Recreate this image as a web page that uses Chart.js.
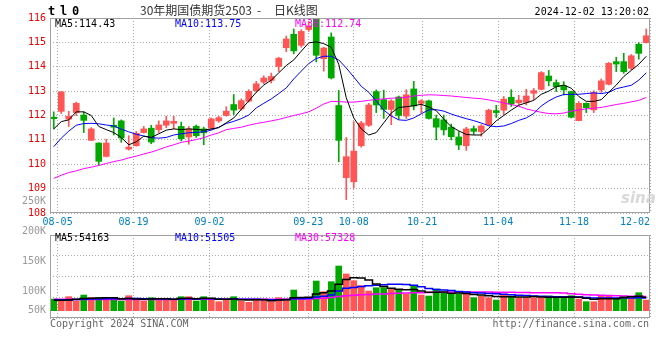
<!DOCTYPE html>
<html lang="zh">
<head>
<meta charset="UTF-8">
<title>30年期国债期货2503 日K线图</title>
<script src="https://cdn.jsdelivr.net/npm/chart.js"></script>
<style>
body { margin: 0; width: 660px; height: 360px; position: relative; overflow: hidden; background: #fff;
       font-family: "DejaVu Sans Mono", monospace; font-size: 10px; }
canvas { position: absolute; left: 0; }
#price-chart { top: 0; }
#vol-chart { top: 190px; }
.txt { position: absolute; white-space: pre; line-height: 12px; }
.cjk { font-family: "Noto Sans CJK SC", sans-serif; font-size: 12px; line-height: 14px; top: 3px; color: #333; }
</style>
</head>
<body>

<canvas id="price-chart" width="660" height="232"></canvas>
<canvas id="vol-chart" width="660" height="170"></canvas>

<div class="txt" style="left:48px;top:4px;font-size:12px;font-weight:bold;letter-spacing:-1.2px;line-height:14px">t l 0</div>
<div class="txt cjk" style="left:140px">30年期国债期货2503</div>
<div class="txt cjk" style="left:257px">-</div>
<div class="txt cjk" style="left:274px">日K线图</div>
<div class="txt" style="right:11px;top:6px;color:#000">2024-12-02 13:20:02</div>

<div class="txt" style="left:55px;top:18px;color:#000">MA5:114.43</div>
<div class="txt" style="left:175px;top:18px;color:#0000FF">MA10:113.75</div>
<div class="txt" style="left:295px;top:18px;color:#FF00FF">MA30:112.74</div>

<div class="txt" style="left:55px;top:232px;color:#000">MA5:54163</div>
<div class="txt" style="left:175px;top:232px;color:#0000FF">MA10:51505</div>
<div class="txt" style="left:295px;top:232px;color:#FF00FF">MA30:57328</div>

<div class="txt" style="left:621px;top:190px;font-family:'DejaVu Sans';font-size:15px;font-weight:bold;font-style:italic;color:#d8d8d8;line-height:16px">sina</div>

<div class="txt" style="left:50px;top:318px;color:#666">Copyright 2024 SINA.COM</div>
<div class="txt" style="right:11px;top:318px;color:#666">http://finance.sina.com.cn</div>

<script>
// 80 trading days, 08-02 .. 12-02
const dateLabels = ['08-05', '08-19', '09-02', '09-23', '10-08', '10-21', '11-04', '11-18', '12-02'];
const dateIdx = [1, 11, 21, 34, 40, 49, 59, 69, 79];

const openP = [111.93, 112.17, 111.85, 112.12, 112.02, 110.98, 110.87, 110.32, 111.6, 111.78,
               110.62, 110.76, 111.3, 111.48, 111.42, 111.6, 111.68, 111.55, 111.12, 111.56,
               111.45, 111.48, 111.78, 112.0, 112.45, 112.27, 112.59, 113.02, 113.37, 113.44,
               114.01, 114.78, 115.33, 114.88, 115.53, 115.95, 114.33, 115.22, 112.41, 109.45,
               109.28, 110.76, 111.6, 112.98, 112.65, 112.25, 112.76, 111.98, 113.09, 112.5,
               112.6, 111.87, 111.82, 111.52, 111.12, 110.76, 111.46, 111.34, 111.62, 112.2,
               112.22, 112.75, 112.52, 112.54, 112.91, 113.07, 113.62, 113.35, 113.22, 112.98,
               111.79, 112.5, 112.23, 113.05, 113.28, 114.21, 114.21, 113.94, 114.92, 114.99];
const highP = [112.15, 112.98, 112.17, 112.55, 112.15, 111.5, 110.88, 111.03, 111.9, 111.82,
               111.17, 111.35, 111.55, 111.6, 111.78, 111.97, 111.97, 111.73, 111.55, 111.61,
               111.52, 111.9, 111.97, 112.36, 112.86, 112.68, 113.06, 113.4, 113.63, 113.74,
               114.39, 115.26, 115.55, 115.52, 115.85, 116.0, 114.8, 115.39, 113.03, 111.1,
               111.75, 111.76, 112.5, 113.05, 113.04, 112.65, 112.8, 113.06, 113.4, 112.65,
               112.63, 112.02, 112.02, 111.65, 111.34, 111.52, 111.57, 111.62, 112.26, 112.42,
               112.78, 113.06, 112.83, 113.08, 113.11, 113.8, 113.85, 113.46, 113.39, 113.0,
               112.57, 112.52, 113.02, 113.5, 114.18, 114.39, 114.55, 114.5, 114.99, 115.55];
const lowP = [111.45, 112.08, 111.55, 112.0, 111.3, 110.97, 109.97, 110.3, 111.2, 110.9,
              110.58, 110.74, 111.28, 110.84, 111.3, 111.5, 111.45, 110.96, 110.82, 111.1,
              110.8, 111.42, 111.72, 111.97, 112.04, 112.22, 112.55, 112.95, 113.3, 113.33,
              113.8, 114.62, 114.53, 114.8, 115.45, 114.2, 113.82, 113.5, 110.1, 108.55,
              109.02, 110.7, 111.55, 112.12, 111.88, 111.62, 111.85, 111.88, 112.23, 112.1,
              111.85, 111.0, 111.2, 111.0, 110.6, 110.57, 111.22, 111.15, 111.58, 111.92,
              112.02, 112.37, 112.43, 112.43, 112.65, 113.05, 113.22, 112.98, 112.84, 111.9,
              111.78, 112.12, 112.12, 112.95, 113.25, 113.8, 113.73, 113.88, 114.31, 114.97];
const closeP = [111.87, 112.97, 111.97, 112.5, 111.8, 111.45, 110.12, 110.87, 111.52, 111.08,
                110.7, 111.27, 111.45, 110.91, 111.61, 111.78, 111.76, 111.05, 111.45, 111.17,
                111.29, 111.86, 111.91, 112.18, 112.22, 112.61, 112.99, 113.3, 113.54, 113.6,
                114.35, 115.14, 114.65, 115.45, 115.67, 114.47, 114.77, 113.54, 110.98, 110.31,
                110.54, 111.69, 112.43, 112.43, 112.25, 112.6, 112.0, 112.85, 112.39, 112.6,
                111.88, 111.52, 111.41, 111.13, 110.79, 111.45, 111.35, 111.57, 112.22, 112.12,
                112.67, 112.47, 112.63, 112.8, 113.02, 113.76, 113.42, 113.18, 113.05, 111.93,
                112.5, 112.32, 112.94, 113.42, 114.14, 114.11, 113.8, 114.45, 114.55, 115.27];

const ma5 = [111.45, 111.75, 111.82, 112.15, 112.15, 112.0, 111.55, 111.42, 111.3, 111.1,
             110.8, 110.92, 111.15, 111.1, 111.25, 111.4, 111.45, 111.42, 111.45, 111.43,
             111.4, 111.45, 111.5, 111.7, 111.9, 112.25, 112.6, 112.95, 113.25, 113.45,
             113.75, 114.05, 114.28, 114.64, 114.98, 115.02, 114.95, 114.8, 114.1, 112.73,
             111.9, 111.45, 111.2, 111.3, 111.7, 112.1, 112.33, 112.36, 112.4, 112.46,
             112.35, 112.2, 111.85, 111.54, 111.37, 111.22, 111.2, 111.2, 111.48, 111.78,
             112.0, 112.22, 112.42, 112.52, 112.62, 112.87, 113.0, 113.18, 113.25, 113.12,
             112.78, 112.58, 112.58, 112.65, 112.95, 113.25, 113.6, 113.85, 114.1, 114.43];
const ma10 = [110.72, 111.07, 111.36, 111.6, 111.67, 111.68, 111.66, 111.61, 111.57, 111.44,
              111.33, 111.23, 111.16, 111.09, 111.07, 111.1, 111.2, 111.25, 111.29, 111.31,
              111.33, 111.4, 111.52, 111.67, 111.76, 111.87, 112.02, 112.31, 112.5, 112.68,
              112.9, 113.13, 113.5, 113.82, 114.13, 114.34, 114.43, 114.43, 114.28, 113.95,
              113.58, 113.2, 112.95, 112.6, 112.22, 111.98, 111.82, 111.8, 111.9, 112.07,
              112.23, 112.24, 112.18, 112.06, 111.96, 111.87, 111.79, 111.69, 111.58, 111.54,
              111.57, 111.67, 111.8, 111.9, 112.08, 112.39, 112.6, 112.76, 112.86, 112.87,
              112.87, 112.9, 112.93, 112.9, 112.95, 113.1, 113.17, 113.24, 113.45, 113.75];
const ma30 = [109.42, 109.55, 109.66, 109.73, 109.82, 109.88, 109.95, 110.03, 110.11, 110.17,
              110.26, 110.33, 110.42, 110.5, 110.6, 110.71, 110.8, 110.9, 110.95, 111.01,
              111.09, 111.2, 111.29, 111.42, 111.47, 111.52, 111.6, 111.67, 111.72, 111.78,
              111.84, 111.92, 112.0, 112.07, 112.15, 112.3, 112.47, 112.58, 112.57, 112.55,
              112.55, 112.58, 112.62, 112.66, 112.68, 112.71, 112.72, 112.75, 112.8, 112.83,
              112.85, 112.84, 112.82, 112.8, 112.77, 112.74, 112.71, 112.69, 112.64, 112.58,
              112.52, 112.45, 112.38, 112.27, 112.2, 112.13, 112.08, 112.07, 112.1, 112.18,
              112.23, 112.27, 112.3, 112.33, 112.39, 112.45, 112.5, 112.56, 112.62, 112.74];

const volume = [47100, 40400, 56600, 39100, 63300, 52500, 52500, 43100, 52500, 39100,
                60600, 43100, 39100, 52500, 47100, 47100, 43100, 56600, 56600, 39100,
                56600, 43100, 36400, 43100, 56600, 39100, 33700, 47100, 43100, 36400,
                52500, 47100, 83500, 43100, 43100, 119900, 76800, 117200, 180500, 148200,
                121200, 101000, 79500, 92900, 92900, 86200, 83500, 67400, 99700, 63300,
                59300, 87600, 72700, 67400, 67400, 67400, 52500, 59300, 52500, 43100,
                67400, 59300, 52500, 52500, 52500, 52500, 59300, 52500, 49800, 60600,
                47100, 36400, 36400, 59300, 60600, 49800, 59300, 49800, 72700, 43100];
const volMa5 = [42000, 42000, 43000, 46000, 49000, 50000, 51000, 52000, 52000, 48000,
                49000, 47000, 46000, 47000, 48000, 48000, 46000, 49000, 50000, 48000,
                50000, 50000, 46000, 46000, 47000, 44000, 43000, 44000, 44000, 40000,
                43000, 44000, 52000, 53000, 54000, 67000, 72000, 80000, 107000, 126000,
                133000, 132000, 124000, 108000, 98000, 91000, 87000, 85000, 86000, 80000,
                75000, 75000, 76000, 70000, 71000, 69000, 65000, 63000, 60000, 57000,
                56000, 56000, 55000, 55000, 57000, 55000, 54000, 54000, 54000, 55000,
                54000, 50000, 46000, 48000, 48000, 48000, 53000, 56000, 58000, 54163];
const volMa10 = [44000, 44000, 44000, 45000, 46000, 47000, 47000, 48000, 48000, 48000,
                 49000, 49000, 48000, 48000, 48000, 47000, 46000, 47000, 48000, 47000,
                 48000, 48000, 47000, 46000, 47000, 46000, 46000, 46000, 45000, 44000,
                 44000, 45000, 48000, 48000, 49000, 55000, 58000, 63000, 80000, 91000,
                 94000, 98000, 101000, 103000, 105000, 107000, 107000, 106000, 103000, 97000,
                 90000, 86000, 84000, 82000, 78000, 76000, 73000, 71000, 69000, 68000,
                 66000, 64000, 62000, 61000, 59000, 58000, 57000, 56000, 56000, 55000,
                 55000, 53000, 51000, 51000, 51000, 51000, 52000, 51000, 52000, 51505];
const volMa30 = [46000, 46000, 46000, 45000, 45000, 45000, 45000, 45000, 45000, 45000,
                 45000, 45000, 45000, 45000, 45000, 45000, 45000, 46000, 46000, 46000,
                 46000, 46000, 46000, 46000, 46000, 46000, 46000, 46000, 46000, 46000,
                 46000, 46000, 47000, 47000, 47000, 49000, 50000, 53000, 57000, 60000,
                 62000, 64000, 65000, 67000, 67000, 69000, 70000, 71000, 73000, 73000,
                 74000, 75000, 75000, 76000, 76000, 76000, 76000, 76000, 76000, 75000,
                 75000, 75000, 74000, 74000, 73000, 73000, 72000, 72000, 71000, 68000,
                 66000, 64000, 63000, 62000, 61000, 60000, 59000, 58000, 58000, 57328];

// volume axis labels, placed where the original puts them
const volTickLabels = ['250K', '200K', '150K', '100K', '50K'];
const volTickAt = [250000, 200000, 150000, 100000, 68300];

Chart.defaults.font.family = 'DejaVu Sans Mono';
Chart.defaults.font.size = 10;

const RED = '#FF5555';
const GREEN = '#00A800';
const GRID = '#AAAAAA';
const n = openP.length;
const idx = openP.map((_, i) => i);
const candleColors = idx.map(i => closeP[i] >= openP[i] ? RED : GREEN);
const pts = arr => arr.map((v, i) => ({ x: i, y: v }));

// date grid lines sit on a slightly wider spacing than the candles
function dateTicks(scale) {
    scale.ticks = dateIdx.map(i => ({ value: i * n / (n - 1) - 0.5 }));
}

function fitX(h) {
    return s => { s.height = h; s.paddingLeft = 0; s.paddingRight = 0; };
}

const framePlugin = {
    id: 'frame',
    afterDraw(chart) {
        const { ctx, chartArea: a } = chart;
        ctx.save();
        ctx.strokeStyle = '#A0A0A0';
        ctx.lineWidth = 1;
        ctx.strokeRect(a.left + 0.5, a.top + 0.5, a.right - a.left - 1, a.bottom - a.top - 1);
        ctx.restore();
    }
};

function maLine(label, arr, color, width, stepped) {
    return { type: 'line', label: label, data: pts(arr), borderColor: color, borderWidth: width,
             pointRadius: 0, fill: false, stepped: stepped, order: 0 };
}

new Chart(document.getElementById('price-chart'), {
    type: 'bar',
    data: {
        datasets: [
            maLine('MA5', ma5, '#000000', 1, false),
            maLine('MA10', ma10, '#0000FF', 1, false),
            maLine('MA30', ma30, '#FF00FF', 1, false),
            { label: 'body', data: idx.map(i => ({ x: i, y: [openP[i], closeP[i]] })),
              backgroundColor: candleColors, barThickness: 6, minBarLength: 1, grouped: false, order: 1 },
            { label: 'wick', data: idx.map(i => ({ x: i, y: [lowP[i], highP[i]] })),
              backgroundColor: candleColors, barThickness: 1, grouped: false, order: 2 }
        ]
    },
    options: {
        responsive: false,
        animation: false,
        events: [],
        layout: { padding: { top: 18, right: 10, left: 0, bottom: 0 } },
        plugins: { legend: { display: false }, tooltip: { enabled: false } },
        scales: {
            x: {
                type: 'linear', min: -0.5, max: n - 0.5, offset: false,
                afterBuildTicks: dateTicks,
                afterFit: fitX(19),
                grid: { color: GRID, drawTicks: false, offset: false },
                border: { display: false, dash: [1, 2] },
                ticks: {
                    color: '#0080C0', padding: 3, maxRotation: 0, autoSkip: false,
                    callback: (v, i) => i === dateLabels.length - 1 ? dateLabels[i] + '     ' : dateLabels[i]
                }
            },
            y: {
                min: 108, max: 116,
                afterFit: s => { s.width = 50; },
                grid: { color: GRID, drawTicks: false },
                border: { display: false, dash: [1, 2] },
                ticks: { stepSize: 1, color: '#EE0000', padding: 4 }
            }
        }
    },
    plugins: [framePlugin]
});

new Chart(document.getElementById('vol-chart'), {
    type: 'bar',
    data: {
        datasets: [
            maLine('MA5', volMa5, '#000000', 1.5, 'middle'),
            maLine('MA10', volMa10, '#0000FF', 1.5, 'middle'),
            maLine('MA30', volMa30, '#FF00FF', 1.5, 'middle'),
            { label: 'volume', data: pts(volume), backgroundColor: candleColors,
              barThickness: 6, grouped: false, order: 1 }
        ]
    },
    options: {
        responsive: false,
        animation: false,
        events: [],
        layout: { padding: { top: 45, right: 10, left: 0, bottom: 42 } },
        plugins: { legend: { display: false }, tooltip: { enabled: false } },
        scales: {
            x: {
                type: 'linear', min: -0.5, max: n - 0.5, offset: false,
                afterBuildTicks: dateTicks,
                afterFit: fitX(0),
                grid: { color: GRID, drawTicks: false, offset: false },
                border: { display: false, dash: [1, 2] },
                ticks: { display: false }
            },
            y: {
                position: 'left', min: -29500, max: 305800,
                afterBuildTicks: s => {
                    const step = (s.max - s.min) / 4;
                    s.ticks = [0, 1, 2, 3, 4].map(k => ({ value: s.min + k * step }));
                },
                afterFit: s => { s.width = 0; },
                grid: { color: GRID, drawTicks: false },
                border: { display: false, dash: [1, 2] },
                ticks: { display: false }
            },
            yl: {
                position: 'left', min: 55000, max: 193300,
                afterBuildTicks: s => { s.ticks = volTickAt.map(v => ({ value: v })); },
                afterFit: s => { s.width = 50; },
                grid: { display: false, drawTicks: false },
                border: { display: false },
                ticks: { color: '#999999', padding: 4, autoSkip: false, callback: (v, i) => volTickLabels[i] }
            }
        }
    },
    plugins: [framePlugin]
});
</script>
</body>
</html>
